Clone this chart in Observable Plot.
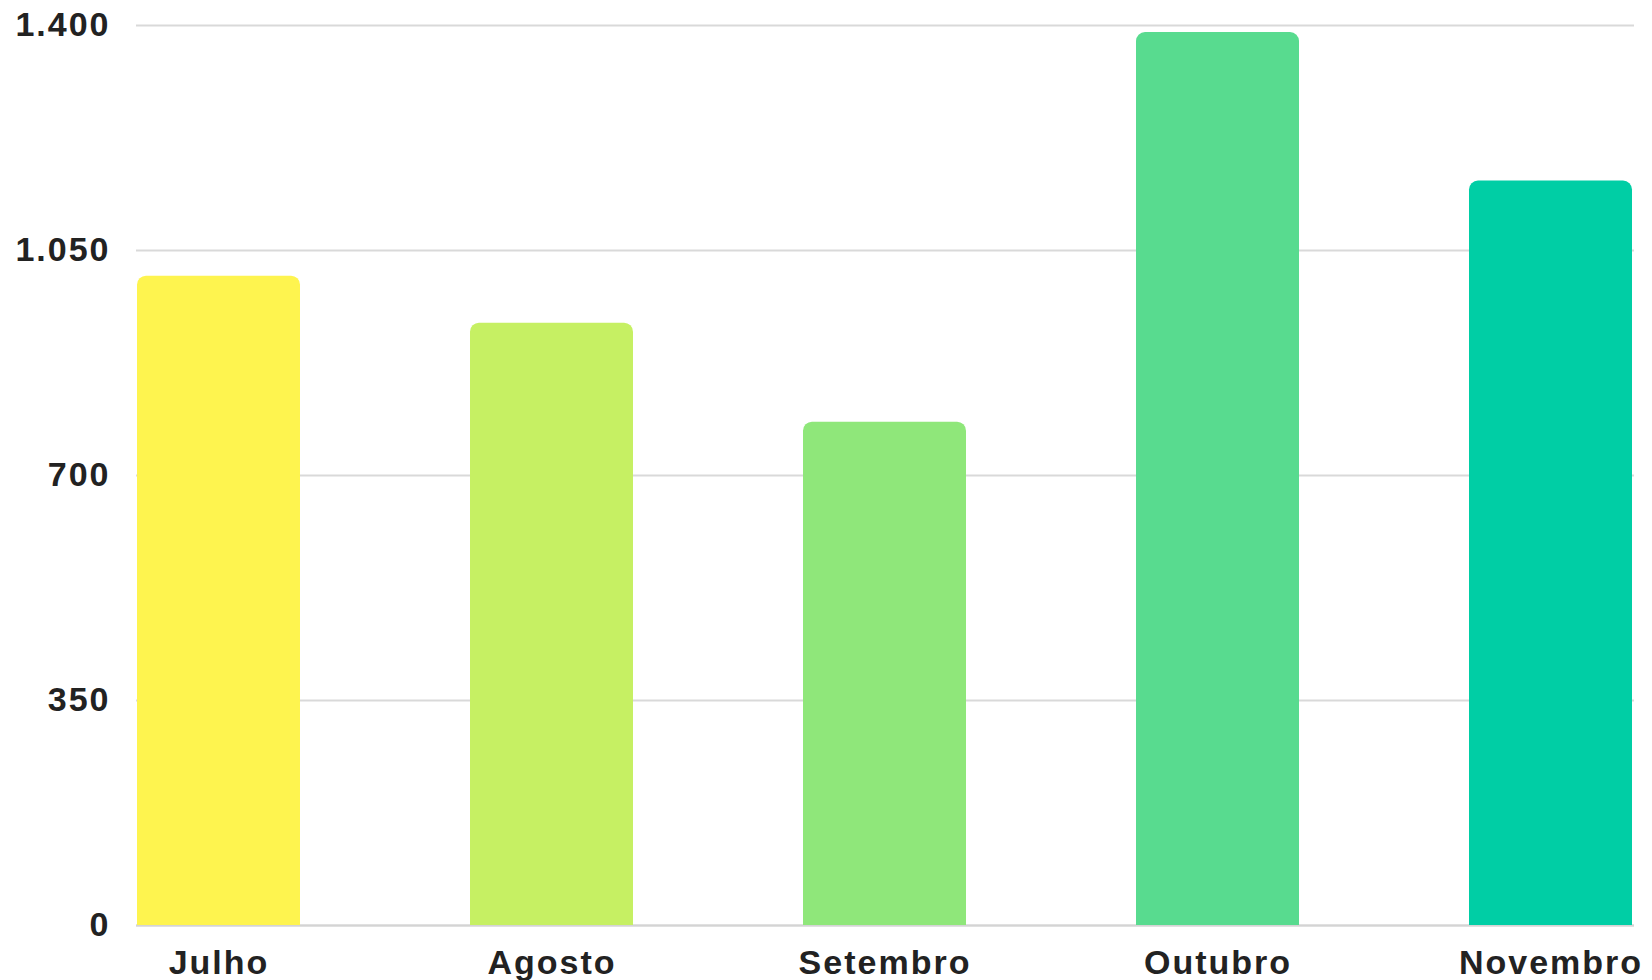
<!DOCTYPE html>
<html><head><meta charset="utf-8">
<script src="https://cdn.jsdelivr.net/npm/d3@7"></script>
<script src="https://cdn.jsdelivr.net/npm/@observablehq/plot@0.6"></script>
<style>body{margin:0;background:#fff;}</style>
</head><body><div id="chart"></div>
<script>
const months = ["Julho", "Agosto", "Setembro", "Outubro", "Novembro"];
const values = [1010, 937, 783, 1389, 1158];
const colors = ["#FEF44F", "#C6F063", "#8FE77A", "#58DB8F", "#00CEA5"];
const yTicks = [0, 350, 700, 1050, 1400];
const yTickLabels = ["0", "350", "700", "1.050", "1.400"];

const data = months.map((m, i) => ({month: m, value: values[i], color: colors[i]}));

const chart = Plot.plot({
  width: 1652,
  height: 980,
  marginLeft: 136,
  marginRight: 18,
  marginTop: 25,
  marginBottom: 55,
  style: {fontFamily: "'Liberation Sans', Arial, sans-serif", fontSize: "34px", fontWeight: "bold", letterSpacing: "2px", color: "#222", background: "#fff"},
  x: {domain: months, paddingInner: 0.51, paddingOuter: 0, label: null, tickSize: 0, tickPadding: 24},
  y: {domain: [0, 1400], ticks: yTicks, tickFormat: d => yTickLabels[yTicks.indexOf(d)], label: null, tickSize: 0, tickPadding: 26},
  color: {type: "identity"},
  marks: [
    Plot.gridY(yTicks, {stroke: "#d9d9d9", strokeOpacity: 1, strokeWidth: 2}),
    Plot.ruleY([0], {stroke: "#d4d4d4", strokeWidth: 2}),
    Plot.barY(data, {x: "month", y: "value", fill: "color", ry1: 9})
  ]
});
document.getElementById("chart").appendChild(chart);
</script>
</body></html>
